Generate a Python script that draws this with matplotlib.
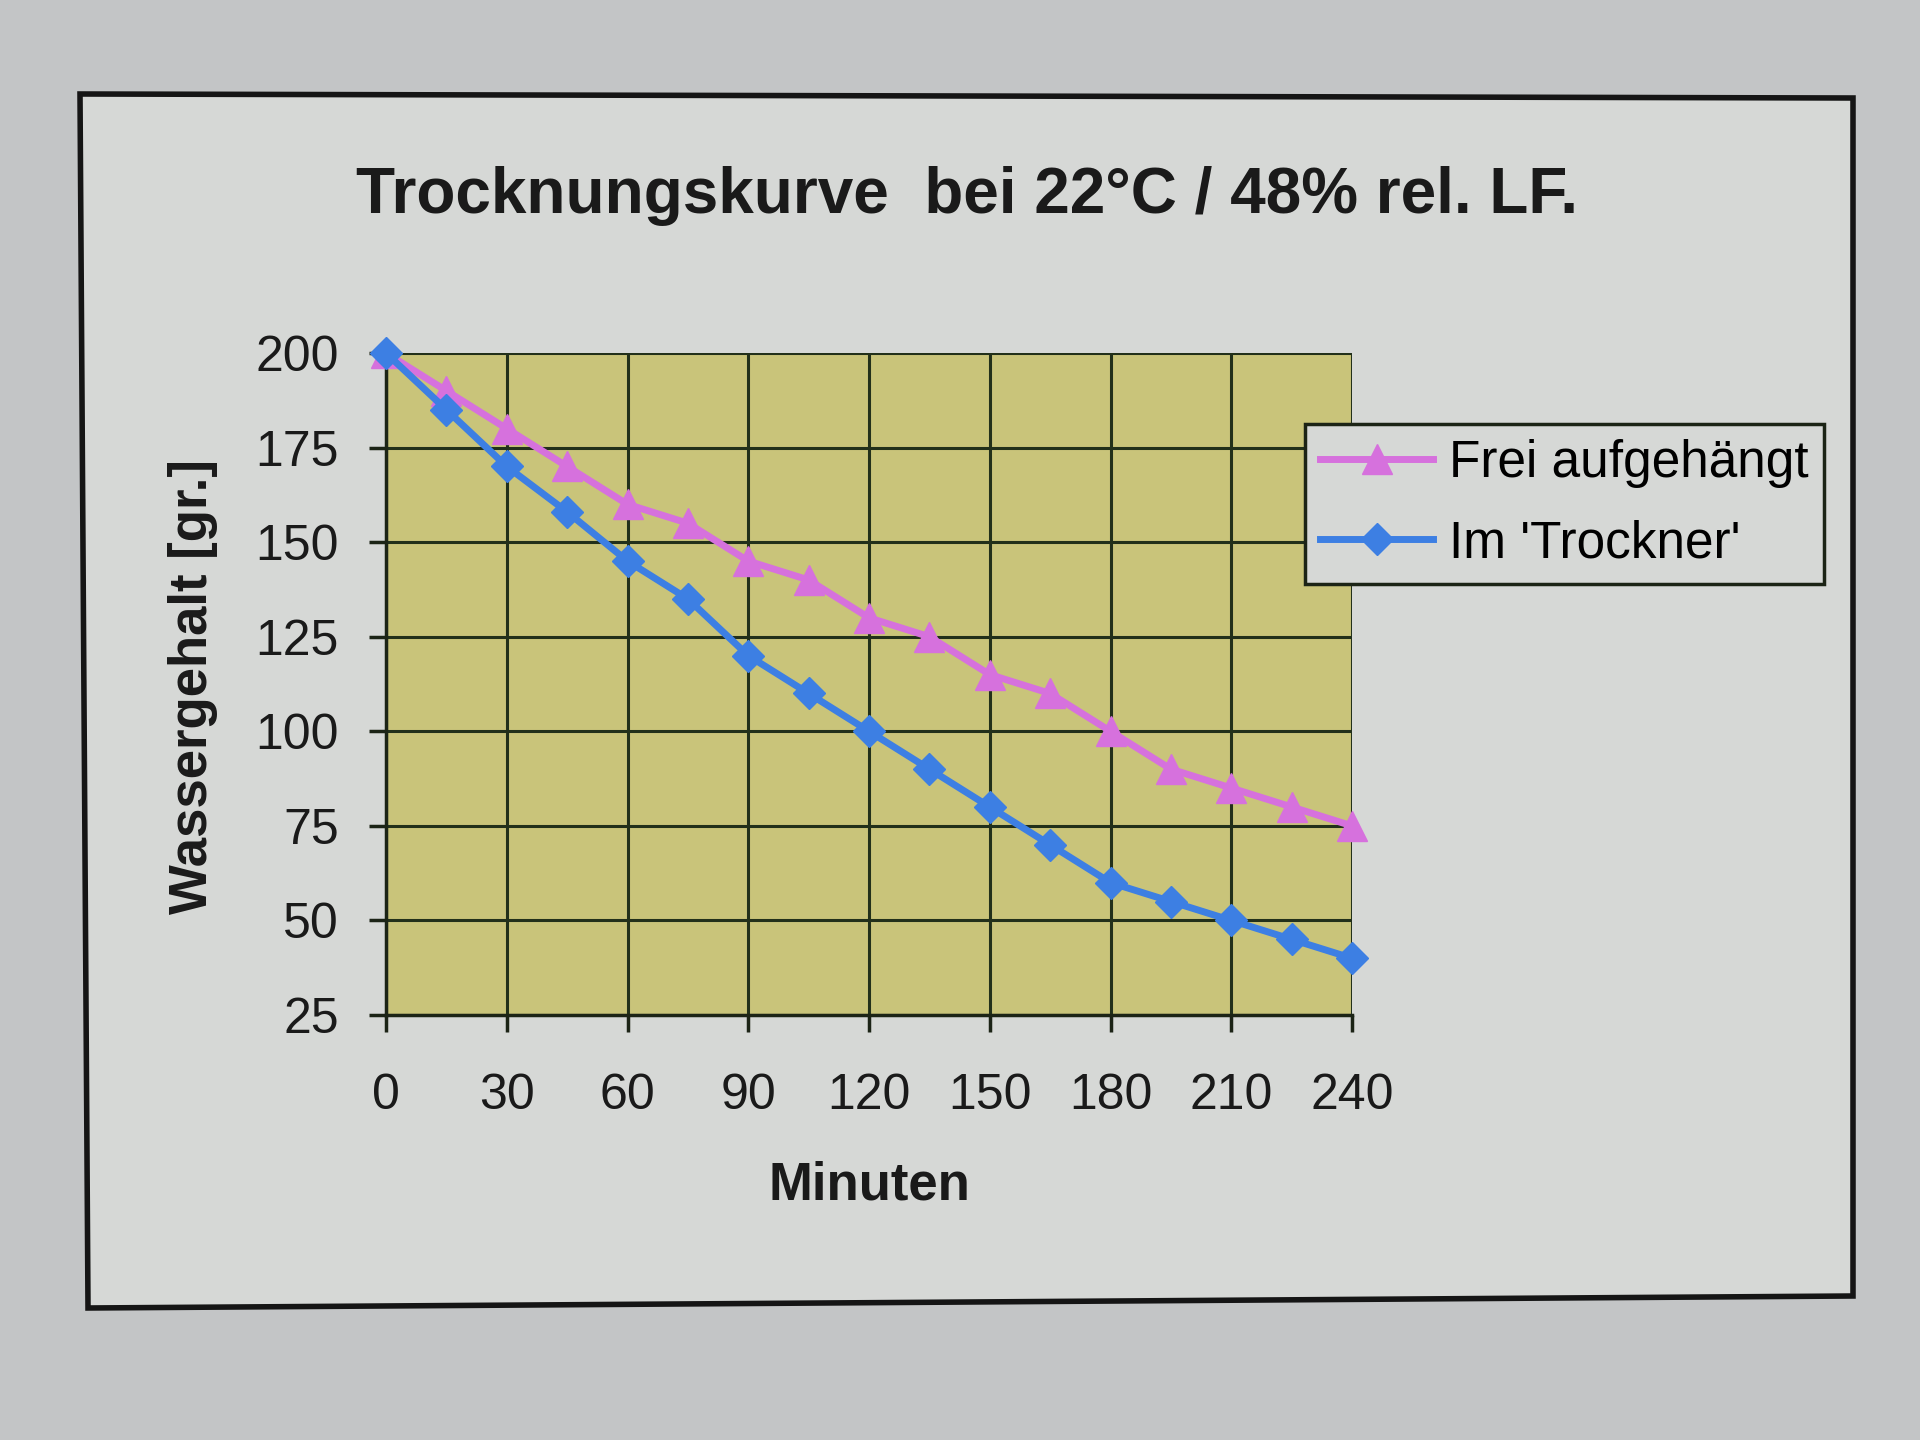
import matplotlib
matplotlib.use("Agg")
import matplotlib.pyplot as plt
from matplotlib.patches import Polygon

plt.rcParams['font.family'] = ['Liberation Sans', 'DejaVu Sans']

# Daten: Messung alle 15 Minuten
minuten = [0, 15, 30, 45, 60, 75, 90, 105, 120, 135, 150, 165, 180, 195, 210, 225, 240]
frei = [200, 190, 180, 170, 160, 155, 145, 140, 130, 125, 115, 110, 100, 90, 85, 80, 75]
trockner = [200, 185, 170, 158, 145, 135, 120, 110, 100, 90, 80, 70, 60, 55, 50, 45, 40]

x_ticks = [0, 30, 60, 90, 120, 150, 180, 210, 240]
y_ticks = [25, 50, 75, 100, 125, 150, 175, 200]

W, H = 1920, 1440
fig = plt.figure(figsize=(W / 100, H / 100), dpi=100)
fig.patch.set_facecolor('#c3c5c6')

# chart frame (slightly skewed like the photo)
corners = [(80, 94), (88, 1308), (1853, 1296), (1853, 98)]
frame = Polygon([(x / W, 1 - y / H) for x, y in corners], closed=True,
                transform=fig.transFigure, facecolor='#d6d8d6',
                edgecolor='#151515', linewidth=4, zorder=-5)
fig.patches.append(frame)

ax = fig.add_axes([386 / W, 1 - 1015 / H, (1352 - 386) / W, (1015 - 353) / H])
ax.set_zorder(2)
ax.set_facecolor('#c9c47a')

ax.plot(minuten, frei, color='#d671dd', linewidth=5, marker='^',
        markersize=21, label='Frei aufgehängt', zorder=3, clip_on=False)
ax.plot(minuten, trockner, color='#3d7fe3', linewidth=5, marker='D',
        markersize=16, label="Im 'Trockner'", zorder=4, clip_on=False)

ax.set_xlim(0, 240)
ax.set_ylim(25, 200)
ax.set_xticks(x_ticks)
ax.set_yticks(y_ticks)
ax.grid(True, color='#22301a', linewidth=2.2)
ax.set_axisbelow(True)

for side in ['top', 'right']:
    ax.spines[side].set_visible(False)
for side in ['left', 'bottom']:
    ax.spines[side].set_color('#1c2416')
    ax.spines[side].set_linewidth(2.5)

ax.tick_params(axis='both', colors='#1c2416', width=2.5, length=12,
               labelsize=36, labelcolor='#1a1a1a')
ax.tick_params(axis='x', pad=30)
ax.tick_params(axis='y', pad=22)

fig.text(967 / W, 1 - 196 / H, 'Trocknungskurve  bei 22°C / 48% rel. LF.',
         ha='center', va='center', fontsize=46, fontweight='bold', color='#1a1a1a')
fig.text(869 / W, 1 - 1185 / H, 'Minuten', ha='center', va='center',
         fontsize=38, fontweight='bold', color='#1a1a1a')
fig.text(193 / W, 1 - 686 / H, 'Wassergehalt [gr.]', ha='center', va='center',
         rotation=90, fontsize=38, fontweight='bold', color='#1a1a1a')

leg = ax.legend(loc='upper left', bbox_to_anchor=(1305 / W, 1 - 424 / H),
                bbox_transform=fig.transFigure, fontsize=37, frameon=True,
                fancybox=False, borderpad=0.3, labelspacing=0.6,
                handlelength=2.2, handletextpad=0.3, borderaxespad=0)
leg.get_frame().set_facecolor('#d6d8d6')
leg.get_frame().set_edgecolor('#1c2416')
leg.get_frame().set_linewidth(2.5)
leg.get_frame().set_alpha(1)

fig.savefig('out.png', dpi=100, facecolor=fig.get_facecolor())
